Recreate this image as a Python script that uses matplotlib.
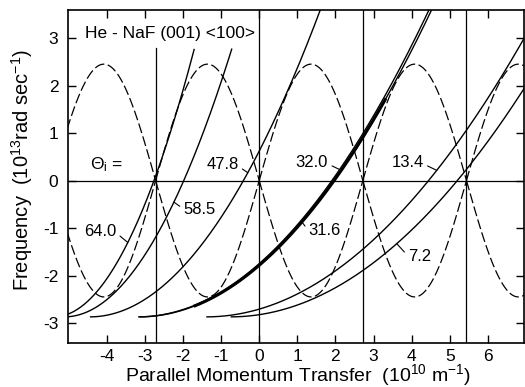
import numpy as np
import matplotlib
matplotlib.use('Agg')
import matplotlib.pyplot as plt

plt.rcParams['font.family'] = ['Liberation Sans', 'DejaVu Sans']
plt.rcParams['axes.unicode_minus'] = False
plt.rcParams['mathtext.default'] = 'regular'

# incidence angles of the scan curves (deg) and their labels
theta_i = [64.0, 58.5, 47.8, 32.0, 31.6, 13.4, 7.2]
labels = ['64.0', '58.5', '47.8', '32.0', '31.6', '13.4', '7.2']
label_xy = [(-4.18, -1.07), (-1.56, -0.60), (-0.97, 0.33), (1.38, 0.38),
            (1.72, -1.06), (3.89, 0.38), (4.21, -1.59)]
leader_x = [-3.45, -2.24, -0.30, 2.11, 1.12, 4.66, 3.61]

# He beam: wave vector (1e10 m^-1), energy in frequency units (1e13 rad/s),
# fixed source-detector angle (deg)
k_i = 6.0
w_i = 2.87
theta_sd = 90.0

# Rayleigh phonon along <100>: max frequency, reciprocal lattice vector
w_max = 2.45
G = 2.72
g_orders = [-1, 0, 1, 2]

xmin, xmax = -5.02, 6.95
ymin, ymax = -3.42, 3.59
y_cut = 2.79  # below the title


def scan(theta, dk):
    si = np.sin(np.radians(theta))
    sf = np.sin(np.radians(theta_sd - theta))
    return w_i * (((k_i * si + dk) / (k_i * sf)) ** 2 - 1)


fig = plt.figure(figsize=(5.25, 3.87), dpi=100)
ax = fig.add_axes([68 / 525, 1 - 343 / 387, 456 / 525, 333 / 387])

# dispersion curves, one arch at a time
for n in range(-3, 4):
    x = np.linspace(n * G, (n + 1) * G, 120)
    y = w_max * np.abs(np.sin(np.pi * x / G))
    for s in (1, -1):
        ax.plot(x, s * y, color='black', lw=0.9, dashes=(8, 2.8))

# reciprocal lattice lines and zero line
for n in g_orders:
    top = y_cut if n * G < -0.1 else ymax
    ax.plot([n * G, n * G], [ymin, top], color='black', lw=0.9)
ax.axhline(0, color='black', lw=0.9)

# scan curves
for th in theta_i:
    x0 = -k_i * np.sin(np.radians(th))
    x = np.linspace(max(x0, xmin - 0.05), xmax + 0.05, 600)
    y = scan(th, x)
    lim = y_cut if x[np.argmin(np.abs(y - y_cut))] < 0 else ymax + 0.1
    y = np.where(y > lim, np.nan, y)
    ax.plot(x, y, color='black', lw=1.0, solid_capstyle='butt')
    if th == 31.6:
        yt = np.where((y > -2.65) & (y < 1.75), y, np.nan)
        ax.plot(x, yt, color='black', lw=2.2, solid_capstyle='butt')

for th, lab, (tx, ty), lx in zip(theta_i, labels, label_xy, leader_x):
    ly = scan(th, lx)
    rel = (0.0, 0.5) if lx < tx else (1.0, 0.4)
    ax.annotate(lab, xy=(lx, ly), xytext=(tx, ty), ha='center', va='center',
                fontsize=12,
                arrowprops=dict(arrowstyle='-', lw=0.8, color='black',
                                relpos=rel, shrinkA=1, shrinkB=0))

ax.text(-4.0, 0.33, r'$\Theta_i$ =', ha='center', va='center', fontsize=12.5)
ax.text(-2.35, 3.1, 'He - NaF (001) <100>', ha='center', va='center',
        fontsize=12.5)

ax.set_xlim(xmin, xmax)
ax.set_ylim(ymin, ymax)
ax.set_xticks(range(-4, 7))
ax.set_yticks(range(-3, 4))
ax.tick_params(direction='in', top=True, right=True, length=6, width=1.0,
               labelsize=12.5, pad=4)
ax.tick_params(axis='y', pad=7)
for sp in ax.spines.values():
    sp.set_linewidth(1.2)

ax.set_xlabel(r'Parallel Momentum Transfer  $(10^{10}$ m$^{-1})$',
              fontsize=14)
ax.set_ylabel(r'Frequency  $(10^{13}$rad sec$^{-1})$', fontsize=14.5)
ax.xaxis.set_label_coords(0.505, -0.058)
ax.yaxis.set_label_coords(-0.072, 0.52)

fig.savefig('out.png', dpi=100)
